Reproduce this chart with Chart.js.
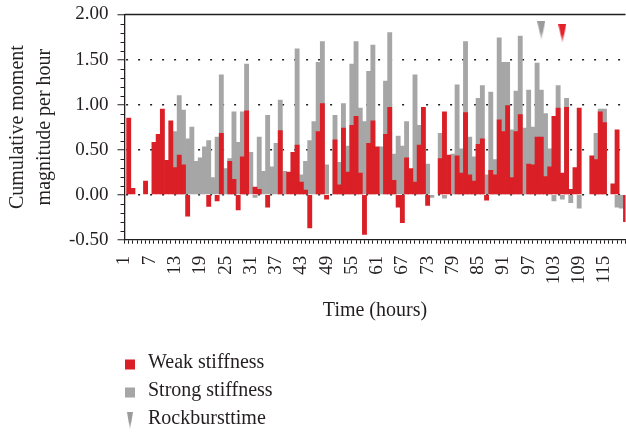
<!DOCTYPE html>
<html>
<head>
<meta charset="utf-8">
<script src="https://cdn.jsdelivr.net/npm/chart.js@4.4.1/dist/chart.umd.min.js"></script>
<style>
  html, body { margin: 0; padding: 0; background: #ffffff; }
  #c { display: block; }
</style>
</head>
<body>
<canvas id="c" width="626" height="434"></canvas>
<script>
// Hour index along the x axis (1 … 120)
const hours = Array.from({ length: 120 }, (_, i) => String(i + 1));
const LABEL_EVERY = 6;

// Cumulative moment magnitude per hour, weak stiffness section (null = no event)
const weakStiffness = [
  null, 0.85, 0.07, null, null, 0.15, null, 0.58, 0.67, 0.95,
  0.38, 0.82, 0.30, 0.44, 0.33, -0.24, null, null, null, null,
  -0.13, null, -0.07, 0.68, null, 0.37, 0.17, -0.17, 0.42, 0.93,
  null, 0.085, 0.06, null, -0.14, null, null, 0.71, null, 0.25,
  0.47, 0.55, 0.14, 0.05, -0.37, null, 0.70, 1.01, -0.05, null,
  0.61, 0.11, 0.74, 0.25, 0.77, 0.87, 0.24, -0.44, 0.57, 0.82,
  0.53, null, 0.67, 0.97, 0.16, -0.14, -0.31, 0.41, 0.29, 0.14,
  0.55, 0.97, -0.12, null, null, 0.40, 0.92, 0.44, null, 0.43,
  0.24, 0.91, 0.22, 0.15, 0.56, 0.62, -0.06, 0.27, 0.22, 0.83,
  0.70, 0.99, 0.19, 0.70, 0.89, null, 0.34, 0.33, 0.64, 0.64,
  0.20, 0.31, 0.87, 0.96, 0.24, 0.97, 0.06, 0.30, 0.96, null,
  null, 0.43, 0.39, 0.92, 0.80, null, 0.12, 0.72, null, -0.30
];

// Cumulative moment magnitude per hour, strong stiffness section
const strongStiffness = [
  null, null, null, null, null, null, null, null, null, null,
  null, null, 0.70, 1.10, 0.94, 0.62, 0.75, 0.37, 0.41, 0.53,
  0.60, 0.19, 0.64, 1.33, 0.29, 0.40, 0.92, 0.58, 0.92, 1.45,
  0.47, -0.03, 0.64, 0.26, 0.88, 0.31, 0.57, 1.05, 0.26, null,
  null, 1.62, 0.22, 0.37, 0.60, 0.81, 1.47, 1.70, 0.33, null,
  0.88, 0.36, 1.01, 0.54, 1.45, 1.70, 0.96, 0.81, 1.37, 1.66,
  null, 0.53, 1.26, 1.80, 0.45, 0.65, 0.54, 0.81, null, 1.33,
  0.77, null, 0.34, -0.03, null, 0.68, -0.04, null, 0.45, 1.22,
  0.51, 1.70, 0.64, 0.42, 1.07, 1.21, 0.22, 1.14, 0.39, 1.74,
  1.47, 1.47, 0.72, 1.15, 1.76, 0.74, 1.16, 0.75, 1.46, 1.16,
  0.90, 0.51, -0.07, 1.21, -0.05, 1.07, -0.09, null, -0.15, null,
  null, null, 0.68, 0.95, 0.95, null, null, -0.14, -0.15, null
];

// Rockburst occurrences (hour, marker height on the value axis)
const rockburstHours = [100, 105];
const rockburstLevel = [1.82, 1.79];

const INK = '#231f20';
const RED = '#da1f26';
const GRAY = '#a6a6a6';
const SERIF = '"Liberation Serif", "Times New Roman", serif';

Chart.defaults.font.family = SERIF;
Chart.defaults.color = INK;

// Slim downward triangle with a fading tip, used as a point marker
function makeTriangle(w, h, top, tip) {
  const c = document.createElement('canvas');
  c.width = w; c.height = h;
  const g = c.getContext('2d');
  const grad = g.createLinearGradient(0, 0, 0, h);
  grad.addColorStop(0, top);
  grad.addColorStop(0.55, top);
  grad.addColorStop(1, tip);
  g.fillStyle = grad;
  g.beginPath();
  g.moveTo(0, 0); g.lineTo(w, 0); g.lineTo(w / 2, h); g.closePath();
  g.fill();
  return c;
}
const grayTri = makeTriangle(8, 19, '#9b9b9b', '#e2e2e2');
const redTri = makeTriangle(8, 19, '#e3222a', '#f6b5b5');
const legendTri = makeTriangle(6, 18, '#9b9b9b', '#e2e2e2');

const rockbursts = rockburstHours.map((h, i) => ({ x: String(h), y: rockburstLevel[i] }));

// Minor y ticks every 0.1 and the top frame line
const axisDecor = {
  id: 'axisDecor',
  afterDraw(chart) {
    const { ctx, chartArea: a, scales: { y } } = chart;
    ctx.save();
    ctx.strokeStyle = INK;
    ctx.lineWidth = 1;
    for (let k = -5; k <= 20; k++) {
      if (k % 5 === 0) continue;
      const py = Math.round(y.getPixelForValue(k / 10)) + 0.5;
      ctx.beginPath();
      ctx.moveTo(a.left - 4, py);
      ctx.lineTo(a.left, py);
      ctx.stroke();
    }
    ctx.lineWidth = 1.3;
    ctx.beginPath();
    ctx.moveTo(a.left, a.top);
    ctx.lineTo(a.right, a.top);
    ctx.stroke();
    ctx.restore();
  }
};

// Vertical legend below the axis title
const stackedLegend = {
  id: 'stackedLegend',
  afterDraw(chart) {
    const { ctx } = chart;
    const ds = chart.data.datasets;
    const x0 = 130, textX = 148, y0 = 363, gap = 28;
    ctx.save();
    ctx.font = '20px ' + SERIF;
    ctx.textBaseline = 'middle';
    ctx.textAlign = 'left';
    ds.forEach((d, i) => {
      const cy = y0 + i * gap;
      if (d.type === 'line') {
        ctx.drawImage(legendTri, x0 - legendTri.width / 2, cy + 2 - legendTri.height / 2);
      } else {
        ctx.fillStyle = d.backgroundColor;
        ctx.fillRect(x0 - 5, cy + 1.5 - 5, 10, 10);
      }
      ctx.fillStyle = INK;
      ctx.fillText(d.label, textX, cy);
    });
    ctx.restore();
  }
};

new Chart(document.getElementById('c'), {
  type: 'bar',
  data: {
    labels: hours,
    datasets: [
      {
        label: 'Weak stiffness', data: weakStiffness, backgroundColor: RED,
        grouped: false, barPercentage: 1, categoryPercentage: 1, borderWidth: 0, clip: 0, order: 1
      },
      {
        label: 'Strong stiffness', data: strongStiffness, backgroundColor: GRAY,
        grouped: false, barPercentage: 1, categoryPercentage: 1, borderWidth: 0, clip: 0, order: 2
      },
      {
        type: 'line', label: 'Rockbursttime', data: rockbursts, showLine: false,
        pointStyle: [grayTri, redTri], pointRadius: 6, backgroundColor: GRAY, order: 0, clip: false
      }
    ]
  },
  options: {
    responsive: false,
    animation: false,
    devicePixelRatio: 1,
    layout: { autoPadding: false, padding: { top: 14.5, left: 0, right: 0.5, bottom: 100 } },
    plugins: { legend: { display: false }, tooltip: { enabled: false } },
    scales: {
      x: {
        type: 'category',
        offset: false,
        grid: { offset: false, drawOnChartArea: false, drawTicks: true, tickLength: 4, tickColor: INK, tickWidth: 1 },
        border: { display: true, color: INK, width: 1.3 },
        ticks: {
          autoSkip: false, minRotation: 90, maxRotation: 90, padding: 12, color: INK,
          font: { size: 19 },
          callback: (v, i) => (i % LABEL_EVERY === 0 ? hours[i] : '')
        },
        title: {
          display: true, text: 'Time (hours)', color: INK,
          font: { size: 20, lineHeight: 1.2 }, padding: { top: 0, bottom: 11 }
        },
        afterFit(s) { s.height = 94.3; s.paddingLeft = 0; s.paddingRight = 0; }
      },
      y: {
        min: -0.5, max: 2, z: 1,
        ticks: { stepSize: 0.5, padding: 9, color: INK, font: { size: 19 }, callback: v => v.toFixed(2) },
        grid: {
          color: c => (c.tick && c.tick.value > -0.5 && c.tick.value < 2 ? '#1e1e1e' : 'rgba(0,0,0,0)'),
          lineWidth: 1.5, tickLength: 7, tickColor: INK, tickWidth: 1
        },
        border: { display: true, color: INK, width: 1.3, dash: [2, 10], dashOffset: 11.2 },
        title: {
          display: true, text: ['Cumulative moment', 'magnitude per hour'], color: INK,
          font: { size: 20, lineHeight: 1.35 }, padding: { top: 4.5, bottom: 0 }
        },
        afterFit(s) { s.width = 124.5; s.paddingTop = 0; s.paddingBottom = 0; }
      }
    }
  },
  plugins: [axisDecor, stackedLegend]
});
</script>
</body>
</html>
